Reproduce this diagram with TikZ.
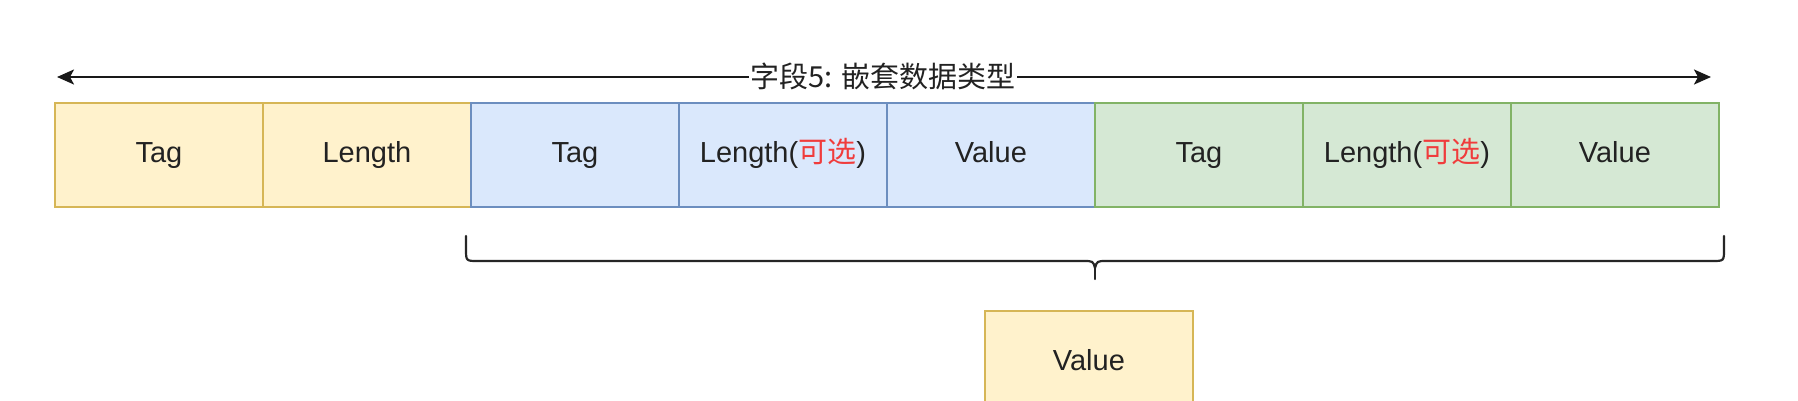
\documentclass[tikz,border=0pt]{standalone}
\usepackage{fontspec}
\setmainfont{Liberation Sans}
\newfontfamily\cjk{Noto Sans CJK SC}
\usetikzlibrary{arrows.meta}
\definecolor{yfill}{HTML}{FFF2CC}\definecolor{ydraw}{HTML}{D6B656}
\definecolor{bfill}{HTML}{DAE8FC}\definecolor{bdraw}{HTML}{6C8EBF}
\definecolor{gfill}{HTML}{D5E8D4}\definecolor{gdraw}{HTML}{82B366}
\definecolor{txt}{HTML}{222222}
\definecolor{opt}{HTML}{F03C3C}
\tikzset{
  cell/.style={minimum width=208pt,minimum height=104pt,anchor=north west,inner sep=0pt,line width=1.8pt,text=txt,text height=21pt,text depth=6pt,font=\fontsize{29}{34}\selectfont},
  ycell/.style={cell,fill=yfill,draw=ydraw},
  bcell/.style={cell,fill=bfill,draw=bdraw},
  gcell/.style={cell,fill=gfill,draw=gdraw},
  brc/.style={line width=2.2pt,draw=black!85,line cap=round,line join=round},
  span/.style={line width=2.2pt,draw=black!90,{Stealth[length=17pt,width=15pt,inset=4pt]}-{Stealth[length=17pt,width=15pt,inset=4pt]}},
}
\newcommand{\optx}{(\textcolor{opt}{\cjk 可选})}
\begin{document}
\begin{tikzpicture}[x=1pt,y=-1pt]
\useasboundingbox (0,0) rectangle (1798,400);
\clip (0,0) rectangle (1798,400);
\fill[white] (0,0) rectangle (1798,400);
% span arrow
\coordinate (aL) at (57,77);
\coordinate (aR) at (1711,77);
\draw[span] (aL) -- (aR);
\node[fill=white,inner sep=2pt,text=txt,font=\fontsize{29}{34}\selectfont] (title) at (883,76) {\cjk 字段5: 嵌套数据类型};
% cells
\node[ycell] (c1) at (54,102) {Tag};
\node[ycell] (c2) at (262,102) {Length};
\node[bcell] (c3) at (470,102) {Tag};
\node[bcell] (c4) at (678,102) {Length\optx};
\node[bcell] (c5) at (886,102) {Value};
\node[gcell] (c6) at (1094,102) {Tag};
\node[gcell] (c7) at (1302,102) {Length\optx};
\node[gcell] (c8) at (1510,102) {Value};
% brace
\coordinate (bA) at (466,236);
\coordinate (bB) at (1724,236);
\coordinate (bT) at (1095,268);
\coordinate (bS) at (1095,279);
\draw[brc] (bA) -- (466,249) .. controls (466,261) .. (478,261) -- (1083,261) .. controls (1093,261) .. (bT) .. controls (1097,261) .. (1107,261) -- (1712,261) .. controls (1724,261) .. (1724,249) -- (bB);
\draw[brc] (bT) -- (bS);
% nested value
\node[ycell] (v) at (984,310) {Value};
\end{tikzpicture}
\end{document}
